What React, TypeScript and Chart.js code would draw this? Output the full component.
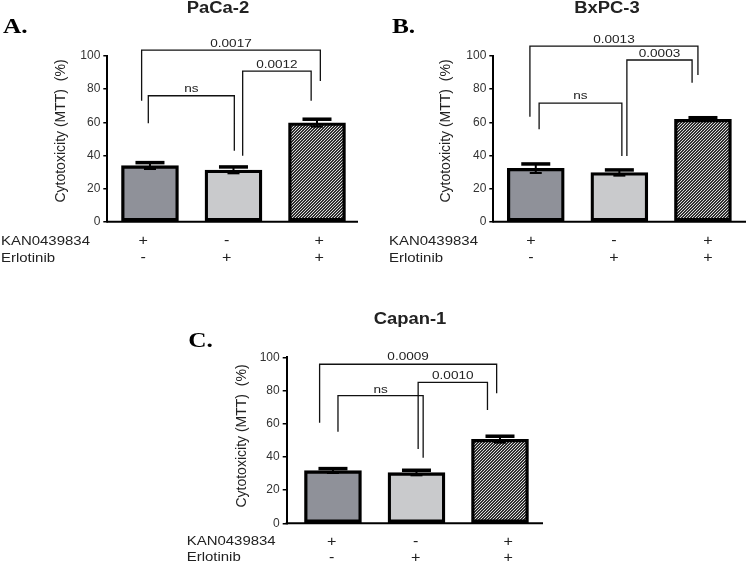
import React, { useEffect, useRef } from "react";
import { Chart, registerables } from "chart.js";

Chart.register(...registerables);

// ---------- data ----------
const categories = ["KAN0439834 + / Erlotinib -", "KAN0439834 - / Erlotinib +", "KAN0439834 + / Erlotinib +"];
const rowLabels = ["KAN0439834", "Erlotinib"];
const kanSigns = ["+", "-", "+"];
const erlSigns = ["-", "+", "+"];
const yTickValues = [0, 20, 40, 60, 80, 100];
const panelTitles = ["PaCa-2", "BxPC-3", "Capan-1"];
const panelLetters = ["A.", "B.", "C."];
const yAxisTitle = "Cytotoxicity (MTT)  (%)";

const pacaMeans = [33.8, 31.2, 59.7];
const pacaSem = [2.0, 2.0, 2.3];
const bxpcMeans = [32.2, 29.6, 61.8];
const bxpcSem = [2.8, 1.8, 1.1];
const capanMeans = [31.7, 30.5, 50.6];
const capanSem = [1.4, 1.6, 2.0];

// comparisons between groups (index pairs)
const comparisons = [[0, 2], [0, 1], [1, 2]];
const pacaPLabels = ["0.0017", "ns", "0.0012"];
const pacaLevels = [103.6, 76, 90.9];
const pacaLegEnds = [[73, 84.9], [59.4, 42.8], [39.8, 73]];
const bxpcPLabels = ["0.0013", "ns", "0.0003"];
const bxpcLevels = [106, 71.5, 97.6];
const bxpcLegEnds = [[63.4, 88.5], [55.8, 39.7], [39.7, 83.9]];
const capanPLabels = ["0.0009", "ns", "0.0010"];
const capanLevels = [95.8, 76.9, 84.9];
const capanLegEnds = [[60.6, 78.3], [55.2, 39.5], [44.8, 68.3]];

// ---------- layout / style ----------
const SANS = "'Liberation Sans', Arial, sans-serif";
const SERIF = "'Liberation Serif', 'Times New Roman', serif";
const Y_W = 40;

const panelLayouts = [
  {
    canvas: [0, 0, 373, 280], area: [107.3, 56, 358, 221.7], xMin: -0.511, xMax: 2.491,
    title: [218, 9], letter: [3, 33], yLabel: [61.5, 131], rowLabelX: 1, rowY: [241, 258.5],
    symX: [143.3, 226.7, 319.3], bracketDx: [[-0.1, 0.04], [-0.02, 0.01], [0.11, -0.07]],
    labelDy: [-6.7, -6.7, -6.7],
  },
  {
    canvas: [373, 0, 373, 280], area: [493.3, 56, 746, 221.7], xMin: -0.508, xMax: 2.515,
    title: [607, 9], letter: [392, 33.3], yLabel: [446, 131], rowLabelX: 389, rowY: [241, 258.5],
    symX: [531, 614, 708], bracketDx: [[-0.07, -0.06], [0.04, 0.03], [0.09, -0.13]],
    labelDy: [-6.7, -7, -5.7],
  },
  {
    canvas: [180, 280, 400, 285], area: [286.7, 357.3, 543, 523.3], xMin: -0.554, xMax: 2.515,
    title: [410, 320], letter: [188.3, 346.7], yLabel: [242.5, 436], rowLabelX: 186.7, rowY: [541.7, 557.7],
    symX: [331.7, 415.7, 508.3], bracketDx: [[-0.16, -0.04], [0.06, 0.08], [0.02, -0.15]],
    labelDy: [-7, -6, -6.7],
  },
];

const panelData = [
  { means: pacaMeans, sems: pacaSem, pLabels: pacaPLabels, levels: pacaLevels, legEnds: pacaLegEnds },
  { means: bxpcMeans, sems: bxpcSem, pLabels: bxpcPLabels, levels: bxpcLevels, legEnds: bxpcLegEnds },
  { means: capanMeans, sems: capanSem, pLabels: capanPLabels, levels: capanLevels, legEnds: capanLegEnds },
];

function makeHatch(): CanvasPattern | string {
  const c = document.createElement("canvas");
  c.width = 3;
  c.height = 3;
  const g = c.getContext("2d");
  if (!g) return "#666";
  g.fillStyle = "#dcdcdc";
  g.fillRect(0, 0, 3, 3);
  g.fillStyle = "#303030";
  for (let y = 0; y < 3; y++) {
    for (let x = 0; x < 3; x++) {
      const k = (x + y) % 3;
      if (k !== 2) g.fillRect(x, y, 1, 1);
    }
  }
  const p = g.createPattern(c, "repeat");
  return p || "#666";
}

function drawText(
  ctx: CanvasRenderingContext2D, text: string, x: number, y: number, font: string,
  align: CanvasTextAlign, sx: number, color: string, baseline: CanvasTextBaseline = "middle"
) {
  ctx.save();
  ctx.font = font;
  ctx.fillStyle = color;
  ctx.textAlign = align;
  ctx.textBaseline = baseline;
  ctx.translate(x, y);
  ctx.scale(sx, 1);
  ctx.fillText(text, 0, 0);
  ctx.restore();
}

function Panel({ index }: { index: number }) {
  const ref = useRef<HTMLCanvasElement | null>(null);
  const L = panelLayouts[index];
  const D = panelData[index];
  const [cx, cy, cw, ch] = L.canvas;

  useEffect(() => {
    const canvas = ref.current;
    if (!canvas) return;
    const hatch = makeHatch();
    const [aL, aT, aR, aB] = L.area;

    const overlay = {
      id: "overlay" + index,
      afterDraw(chart: any) {
        const ctx: CanvasRenderingContext2D = chart.ctx;
        const xs = chart.scales.x;
        const ys = chart.scales.y;
        const area = chart.chartArea;
        const unit = xs.getPixelForValue(1) - xs.getPixelForValue(0);
        ctx.save();
        // x axis line
        ctx.strokeStyle = "#000";
        ctx.lineWidth = 2;
        ctx.beginPath();
        ctx.moveTo(area.left - 1, area.bottom);
        ctx.lineTo(area.right, area.bottom);
        ctx.stroke();

        // error bars
        const meta = chart.getDatasetMeta(0);
        D.means.forEach((m: number, i: number) => {
          const bar = meta.data[i];
          const x = bar.x;
          const yTop = ys.getPixelForValue(m + D.sems[i]);
          const yBot = ys.getPixelForValue(m - D.sems[i]);
          ctx.fillStyle = "#000";
          ctx.fillRect(x - 1, yTop, 2, yBot - yTop);
          ctx.fillRect(x - 14.5, yTop - 1.5, 29, 3.5);
          ctx.fillRect(x - 6, yBot - 1, 12, 2);
        });

        // significance brackets
        ctx.strokeStyle = "#111";
        ctx.lineWidth = 1.3;
        comparisons.forEach((pair, k) => {
          const x1 = xs.getPixelForValue(pair[0]) + L.bracketDx[k][0] * unit;
          const x2 = xs.getPixelForValue(pair[1]) + L.bracketDx[k][1] * unit;
          const yl = ys.getPixelForValue(D.levels[k]);
          const y1 = ys.getPixelForValue(D.legEnds[k][0]);
          const y2 = ys.getPixelForValue(D.legEnds[k][1]);
          ctx.beginPath();
          ctx.moveTo(x1, y1);
          ctx.lineTo(x1, yl);
          ctx.lineTo(x2, yl);
          ctx.lineTo(x2, y2);
          ctx.stroke();
          drawText(ctx, D.pLabels[k], (x1 + x2) / 2, yl + L.labelDy[k], `11.5px ${SANS}`, "center", 1.18, "#222");
        });

        // title and letter
        drawText(ctx, panelTitles[index], L.title[0] - cx, L.title[1] - cy, `bold 16px ${SANS}`, "center", 1.15, "#222");
        drawText(ctx, panelLetters[index], L.letter[0] - cx, L.letter[1] - cy, `bold 22px ${SERIF}`, "left", 1.15, "#000", "alphabetic");

        // y axis title
        ctx.save();
        ctx.translate(L.yLabel[0] - cx, L.yLabel[1] - cy);
        ctx.rotate(-Math.PI / 2);
        ctx.font = `14px ${SANS}`;
        ctx.fillStyle = "#222";
        ctx.textAlign = "center";
        ctx.textBaseline = "middle";
        ctx.fillText(yAxisTitle, 0, 0);
        ctx.restore();

        // treatment table
        const rows = [kanSigns, erlSigns];
        rows.forEach((signs, r) => {
          const ry = L.rowY[r] - cy;
          drawText(ctx, rowLabels[r], L.rowLabelX - cx, ry, `13px ${SANS}`, "left", 1.15, "#222");
          signs.forEach((s, i) => {
            drawText(ctx, s, L.symX[i] - cx, ry, `14px ${SANS}`, "center", 1.15, "#222");
          });
        });
        ctx.restore();
      },
    };

    const chart = new Chart(canvas, {
      type: "bar",
      data: {
        labels: categories,
        datasets: [
          {
            data: D.means.map((v: number, i: number) => ({ x: i, y: v })),
            backgroundColor: ["#8f9199", "#c9cacc", hatch as any],
            borderColor: "#000",
            borderWidth: 3.3,
            borderSkipped: false,
            barThickness: 57,
          } as any,
        ],
      },
      options: {
        responsive: false,
        animation: false,
        devicePixelRatio: 1,
        layout: {
          padding: {
            left: aL - cx - Y_W,
            top: aT - cy,
            right: cx + cw - aR,
            bottom: cy + ch - aB,
          },
        },
        plugins: {
          legend: { display: false },
          tooltip: { enabled: false },
          title: { display: false },
        },
        scales: {
          x: {
            type: "linear",
            display: false,
            min: L.xMin,
            max: L.xMax,
            offset: false,
            grid: { display: false },
          },
          y: {
            min: 0,
            max: 100,
            afterBuildTicks: (s: any) => {
              s.ticks = yTickValues.map((v) => ({ value: v }));
            },
            afterFit: (s: any) => {
              s.width = Y_W;
            },
            ticks: {
              font: { family: SANS, size: 12 },
              color: "#333",
              padding: 3,
            },
            grid: {
              drawOnChartArea: false,
              drawTicks: true,
              tickLength: 4,
              color: "#000",
              lineWidth: 1.5,
            },
            border: { display: true, color: "#000", width: 2 },
          },
        },
      } as any,
      plugins: [overlay],
    });
    return () => chart.destroy();
  }, [index]);

  return (
    <canvas
      ref={ref}
      width={cw}
      height={ch}
      style={{ position: "absolute", left: cx, top: cy, width: cw, height: ch }}
    />
  );
}

export default function App() {
  return (
    <div style={{ position: "absolute", left: 0, top: 0, width: 746, height: 565, background: "#fff", overflow: "hidden" }}>
      <Panel index={0} />
      <Panel index={1} />
      <Panel index={2} />
    </div>
  );
}
